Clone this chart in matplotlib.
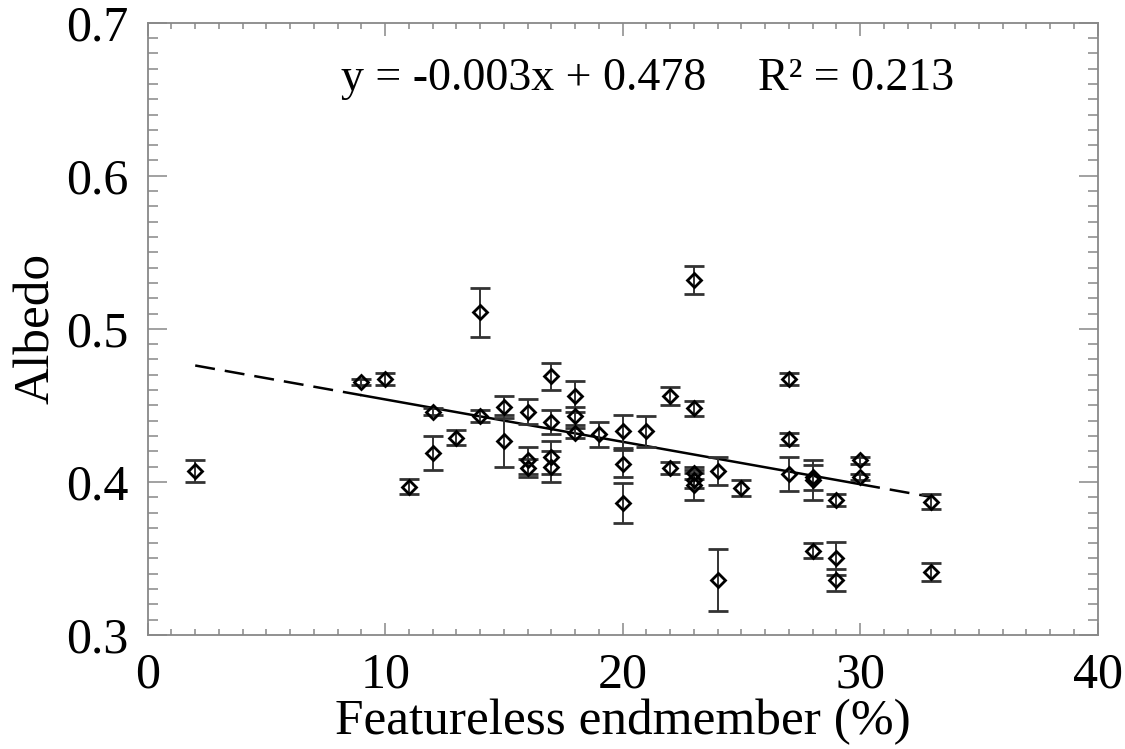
import numpy as np
import matplotlib.pyplot as plt
from matplotlib.ticker import MultipleLocator

plt.rcParams['font.family'] = ['Liberation Serif', 'DejaVu Serif']

# featureless endmember fraction (%), albedo and its error
x = [2, 9, 10, 11, 12, 12, 13, 14, 14, 15, 15, 16, 16, 16,
     17, 17, 17, 17, 18, 18, 18, 19, 20, 20, 20, 21, 22, 22,
     23, 23, 23, 23, 23, 24, 24, 25, 27, 27, 27, 28, 28, 28,
     29, 29, 29, 30, 30, 33, 33]
albedo = [0.407, 0.465, 0.467, 0.397, 0.446, 0.419, 0.429, 0.443, 0.511, 0.449, 0.427, 0.446, 0.414, 0.409,
          0.469, 0.439, 0.416, 0.410, 0.456, 0.443, 0.432, 0.431, 0.433, 0.412, 0.386, 0.433, 0.456, 0.409,
          0.532, 0.448, 0.406, 0.401, 0.398, 0.407, 0.336, 0.396, 0.467, 0.428, 0.405, 0.403, 0.401, 0.355,
          0.388, 0.350, 0.336, 0.414, 0.403, 0.387, 0.341]
err = [0.007, 0.002, 0.004, 0.005, 0.002, 0.011, 0.005, 0.004, 0.016, 0.007, 0.017, 0.008, 0.009, 0.006,
       0.009, 0.008, 0.011, 0.010, 0.010, 0.006, 0.003, 0.008, 0.011, 0.009, 0.013, 0.010, 0.006, 0.004,
       0.009, 0.005, 0.004, 0.005, 0.010, 0.009, 0.020, 0.005, 0.004, 0.004, 0.011, 0.008, 0.013, 0.005,
       0.004, 0.011, 0.007, 0.002, 0.002, 0.005, 0.006]

# regression line as drawn (dashed at both ends)
fit_slope = -0.00277
fit_intercept = 0.4816
line_breaks = [2, 9, 30, 33]

fig = plt.figure(figsize=(11.25, 7.49), dpi=100)
ax = fig.add_axes([0.1313, 0.1522, 0.8444, 0.8175])

ax.errorbar(x, albedo, yerr=err, fmt='D', ms=7.5, mfc='none', mec='black', mew=2.0,
            ecolor='#333333', elinewidth=1.4, capsize=7, capthick=1.4, zorder=3)

styles = ['--', '-', '--']
for i in range(3):
    xs = np.array([line_breaks[i], line_breaks[i + 1]])
    ax.plot(xs, fit_slope * xs + fit_intercept, color='black', lw=1.8,
            ls=styles[i], dashes=(8, 4) if styles[i] == '--' else (None, None), zorder=2)

ax.text(0.203, 0.89, 'y = -0.003x + 0.478', transform=ax.transAxes, fontsize=33)
ax.text(0.642, 0.89, 'R² = 0.213', transform=ax.transAxes, fontsize=33)

ax.set_xlim(0, 40)
ax.set_ylim(0.3, 0.7)
ax.xaxis.set_major_locator(MultipleLocator(10))
ax.xaxis.set_minor_locator(MultipleLocator(1))
ax.yaxis.set_major_locator(MultipleLocator(0.1))
ax.yaxis.set_minor_locator(MultipleLocator(0.01))

for s in ax.spines.values():
    s.set_color('#888888')
    s.set_linewidth(1.3)
ax.tick_params(which='both', direction='in', top=True, right=True, colors='#888888',
               labelcolor='black', labelsize=36, width=1.1)
ax.tick_params(axis='x', which='major', length=9, pad=12)
ax.tick_params(axis='x', which='minor', length=4)
ax.tick_params(axis='y', which='major', length=14, pad=14)
ax.tick_params(axis='y', which='minor', length=7)

ax.set_xlabel('Featureless endmember (%)', fontsize=37, labelpad=0)
ax.set_ylabel('Albedo', fontsize=37, labelpad=4)

fig.savefig('out.png', dpi=100)
